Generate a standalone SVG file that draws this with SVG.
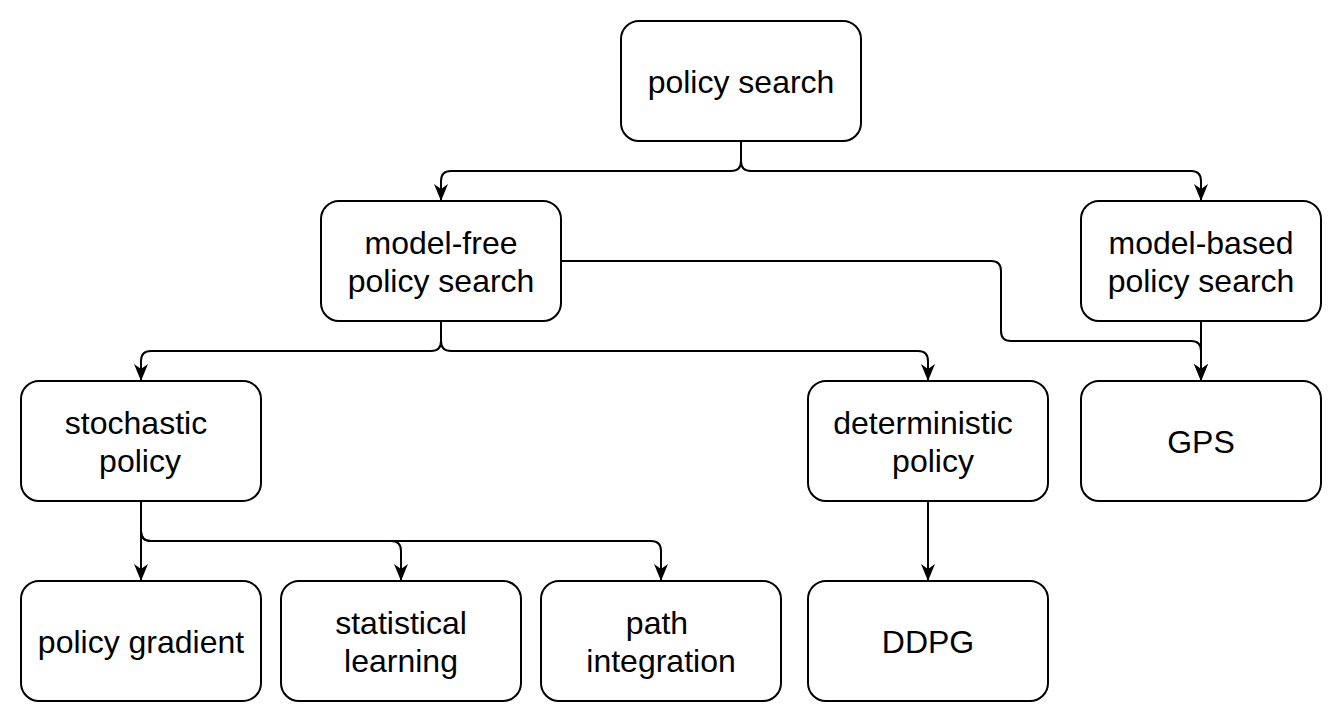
<svg xmlns="http://www.w3.org/2000/svg" width="1342" height="722" viewBox="0 0 1342 722">
<style>
.box{fill:#fff;stroke:#000;stroke-width:2}
.lbl{font-family:"Liberation Sans",Arial,sans-serif;font-size:32px;fill:#000;text-anchor:middle}
.edge{fill:none;stroke:#000;stroke-width:2}
</style>
<defs>
<marker id="arr" markerUnits="userSpaceOnUse" viewBox="0 0 17 14" markerWidth="17" markerHeight="14" refX="17" refY="7" orient="auto">
<path d="M17,7 L0,0 L5,7 L0,14 Z" fill="#000"/>
</marker>
</defs>
<rect width="1342" height="722" fill="#fff"/>
<g id="connectors">
<path class="edge" marker-end="url(#arr)" d="M741,141 V161 Q741,171 731,171 H451 Q441,171 441,181 V201"/>
<path class="edge" marker-end="url(#arr)" d="M741,141 V161 Q741,171 751,171 H1191 Q1201,171 1201,181 V201"/>
<path class="edge" marker-end="url(#arr)" d="M441,321 V341 Q441,351 431,351 H151 Q141,351 141,361 V381"/>
<path class="edge" marker-end="url(#arr)" d="M441,321 V341 Q441,351 451,351 H918 Q928,351 928,361 V381"/>
<path class="edge" marker-end="url(#arr)" d="M561,261 H991 Q1001,261 1001,271 V331 Q1001,341 1011,341 H1191 Q1201,341 1201,351 V381"/>
<path class="edge" marker-end="url(#arr)" d="M1201,321 V381"/>
<path class="edge" marker-end="url(#arr)" d="M141,501 V581"/>
<path class="edge" marker-end="url(#arr)" d="M141,501 V531 Q141,541 151,541 H391 Q401,541 401,551 V581"/>
<path class="edge" marker-end="url(#arr)" d="M141,501 V531 Q141,541 151,541 H651 Q661,541 661,551 V581"/>
<path class="edge" marker-end="url(#arr)" d="M928,501 V581"/>
</g>
<g id="policy-search">
<rect class="box" x="621" y="21" width="240" height="120" rx="18"/>
<text class="lbl" x="741" y="93">policy search</text>
</g>
<g id="model-free">
<rect class="box" x="321" y="201" width="240" height="120" rx="18"/>
<text class="lbl" x="441" y="253.5">model-free</text>
<text class="lbl" x="441" y="292">policy search</text>
</g>
<g id="model-based">
<rect class="box" x="1081" y="201" width="240" height="120" rx="18"/>
<text class="lbl" x="1201" y="253.5">model-based</text>
<text class="lbl" x="1201" y="292">policy search</text>
</g>
<g id="stochastic">
<rect class="box" x="21" y="381" width="240" height="120" rx="18"/>
<text class="lbl" x="136" y="433.5">stochastic</text>
<text class="lbl" x="140" y="472">policy</text>
</g>
<g id="deterministic">
<rect class="box" x="808" y="381" width="240" height="120" rx="18"/>
<text class="lbl" x="923" y="433.5">deterministic</text>
<text class="lbl" x="933" y="472">policy</text>
</g>
<g id="gps">
<rect class="box" x="1081" y="381" width="240" height="120" rx="18"/>
<text class="lbl" x="1201" y="452.5">GPS</text>
</g>
<g id="policy-gradient">
<rect class="box" x="21" y="581" width="240" height="120" rx="18"/>
<text class="lbl" x="141" y="652.5">policy gradient</text>
</g>
<g id="statistical-learning">
<rect class="box" x="281" y="581" width="240" height="120" rx="18"/>
<text class="lbl" x="401" y="633.5">statistical</text>
<text class="lbl" x="401" y="672">learning</text>
</g>
<g id="path-integration">
<rect class="box" x="541" y="581" width="240" height="120" rx="18"/>
<text class="lbl" x="657" y="633.5">path</text>
<text class="lbl" x="661" y="672">integration</text>
</g>
<g id="ddpg">
<rect class="box" x="808" y="581" width="240" height="120" rx="18"/>
<text class="lbl" x="928" y="652.5">DDPG</text>
</g>
</svg>
